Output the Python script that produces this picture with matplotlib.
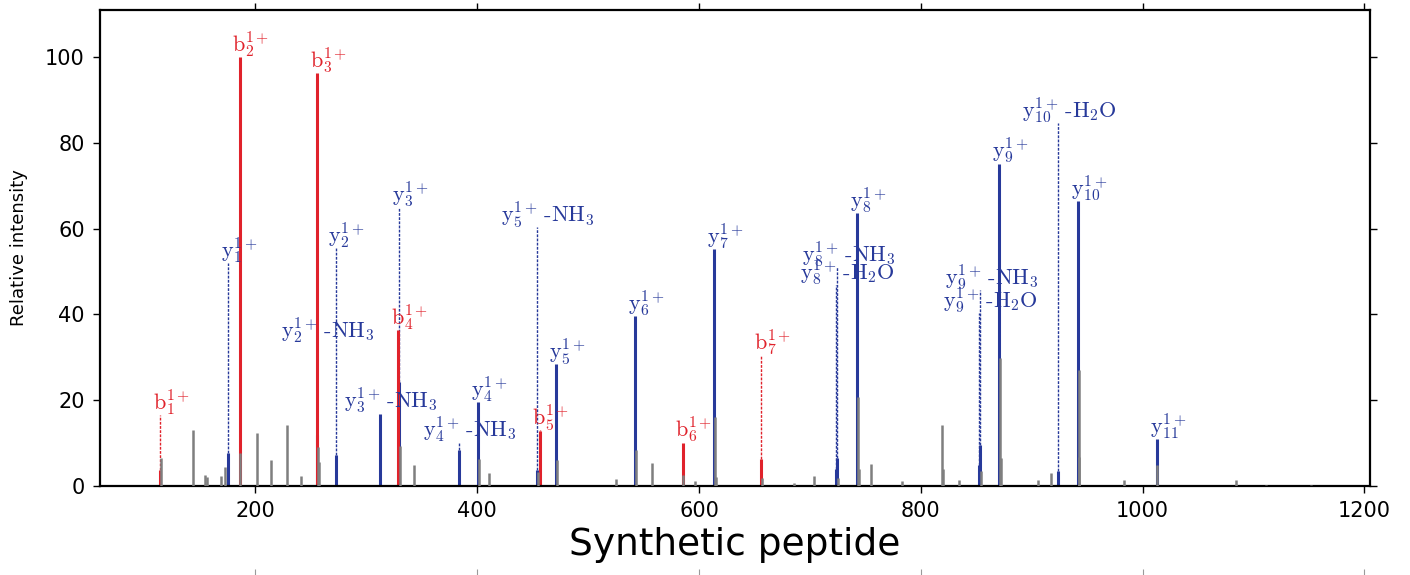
import matplotlib
matplotlib.use("Agg")
import matplotlib.pyplot as plt

plt.rcParams["mathtext.fontset"] = "cm"

# ---- unassigned / experimental peaks (m/z, relative intensity) ----
gray_mz = [114.8, 143.6, 155.0, 156.6, 169.4, 172.8, 186.5, 201.7, 214.2, 228.6,
           241.3, 256.8, 257.6, 330.5, 342.7, 401.5, 410.8, 455.0, 472.0, 525.2,
           542.8, 557.6, 585.8, 596.4, 614.2, 615.0, 656.9, 685.5, 704.0, 725.4,
           743.0, 744.0, 755.4, 783.4, 819.3, 819.9, 834.8, 854.2, 871.6, 872.5,
           905.8, 917.6, 942.3, 943.0, 982.8, 1013.4, 1084.0, 1111.0, 1152.0]
gray_int = [6.5, 13.0, 2.5, 2.1, 2.3, 4.4, 7.6, 12.4, 6.1, 14.2,
            2.4, 9.0, 5.5, 9.3, 4.9, 6.4, 3.1, 3.3, 6.0, 1.6,
            8.4, 5.3, 2.5, 1.2, 16.2, 2.0, 1.8, 0.6, 2.3, 1.8,
            20.8, 4.0, 5.2, 1.2, 14.2, 4.0, 1.3, 3.5, 29.8, 6.5,
            1.4, 3.0, 27.0, 6.8, 1.3, 5.0, 1.3, 0.3, 0.3]

# ---- b ions ----
b_labels = [r"$\mathrm{b}_{1}^{1+}$", r"$\mathrm{b}_{2}^{1+}$", r"$\mathrm{b}_{3}^{1+}$",
            r"$\mathrm{b}_{4}^{1+}$", r"$\mathrm{b}_{5}^{1+}$", r"$\mathrm{b}_{6}^{1+}$",
            r"$\mathrm{b}_{7}^{1+}$"]
b_mz = [114.4, 185.8, 256.0, 328.6, 456.3, 585.2, 656.1]
b_int = [3.7, 100.0, 96.3, 36.4, 12.8, 10.1, 6.2]
b_label_level = [16.5, 100.0, 96.3, 36.4, 13.0, 10.1, 30.5]

# ---- y ions (including neutral losses) ----
y_labels = [r"$\mathrm{y}_{1}^{1+}$", r"$\mathrm{y}_{2}^{1+}$", r"$\mathrm{y}_{2}^{1+}\,$-NH$_3$",
            r"$\mathrm{y}_{3}^{1+}$", r"$\mathrm{y}_{3}^{1+}\,$-NH$_3$", r"$\mathrm{y}_{4}^{1+}$",
            r"$\mathrm{y}_{4}^{1+}\,$-NH$_3$", r"$\mathrm{y}_{5}^{1+}$", r"$\mathrm{y}_{5}^{1+}\,$-NH$_3$",
            r"$\mathrm{y}_{6}^{1+}$", r"$\mathrm{y}_{7}^{1+}$", r"$\mathrm{y}_{8}^{1+}$",
            r"$\mathrm{y}_{8}^{1+}\,$-NH$_3$", r"$\mathrm{y}_{8}^{1+}\,$-H$_2$O", r"$\mathrm{y}_{9}^{1+}$",
            r"$\mathrm{y}_{9}^{1+}\,$-NH$_3$", r"$\mathrm{y}_{9}^{1+}\,$-H$_2$O", r"$\mathrm{y}_{10}^{1+}$",
            r"$\mathrm{y}_{10}^{1+}\,$-H$_2$O", r"$\mathrm{y}_{11}^{1+}$"]
y_mz = [175.2, 272.4, 255.4, 329.6, 312.0, 400.7, 383.6, 471.3, 454.0, 542.2,
        613.5, 742.3, 724.8, 723.8, 870.9, 853.5, 852.7, 941.6, 923.6, 1012.7]
y_int = [7.6, 7.2, 12.0, 24.3, 16.8, 19.6, 8.4, 28.4, 3.7, 39.6,
         55.2, 63.7, 6.5, 4.0, 75.2, 9.6, 5.0, 66.5, 3.5, 11.0]
y_label_level = [52.0, 55.5, 33.3, 65.0, 16.9, 19.6, 10.3, 28.4, 60.4, 39.6,
                 55.2, 63.7, 51.0, 46.8, 75.2, 45.7, 40.3, 66.5, 84.6, 11.0]

RED = "#e0222b"
BLUE = "#27399a"
GRAY = "#7f7f7f"

fig = plt.figure(figsize=(14.10, 5.75), dpi=100)
ax = fig.add_axes([100 / 1410, 1 - 486 / 575, 1270 / 1410, 476 / 575])


def draw_ions(mzs, ints, levels, labels, color):
    ax.vlines(mzs, 0, ints, colors=color, linewidth=2.2, zorder=2)
    for mz, inten, lvl, lab in zip(mzs, ints, levels, labels):
        top = max(inten, lvl)
        if lvl > inten:
            ax.plot([mz, mz], [inten, lvl], color=color, linewidth=1.0,
                    linestyle=(0, (2.0, 1.0)), zorder=2)
        ax.annotate(lab, xy=(mz, top), xytext=(8, -2), textcoords="offset points",
                    ha="center", va="bottom", color=color, fontsize=16,
                    fontfamily="cmr10", zorder=4)


draw_ions(y_mz, y_int, y_label_level, y_labels, BLUE)
draw_ions(b_mz, b_int, b_label_level, b_labels, RED)
ax.vlines(gray_mz, 0, gray_int, colors=GRAY, linewidth=1.8, zorder=3)

ax.set_xlim(60, 1205)
ax.set_ylim(0, 111)
ax.set_xticks(range(200, 1201, 200))
ax.set_yticks(range(0, 101, 20))
ax.tick_params(direction="out", length=5, width=1, labelsize=15, pad=6,
               top=True, right=True, labeltop=False, labelright=False)
for sp in ax.spines.values():
    sp.set_linewidth(1.6)

ax.set_ylabel("Relative intensity", fontsize=13, labelpad=12)
ax.set_xlabel("Synthetic peptide", fontsize=27, labelpad=4)

# top ticks of the neighbouring panel just below the figure edge
ax_below = fig.add_axes([100 / 1410, -0.5, 1270 / 1410, 0.5 - 1 / 575])
ax_below.set_xlim(ax.get_xlim())
ax_below.set_xticks(range(200, 1201, 200))
ax_below.tick_params(direction="out", length=5, width=0.8, color="#9a9a9a",
                     top=True, bottom=False, left=False, labelbottom=False,
                     labelleft=False)
for sp in ax_below.spines.values():
    sp.set_visible(False)
ax_below.patch.set_visible(False)

fig.savefig("out.png", dpi=100)
